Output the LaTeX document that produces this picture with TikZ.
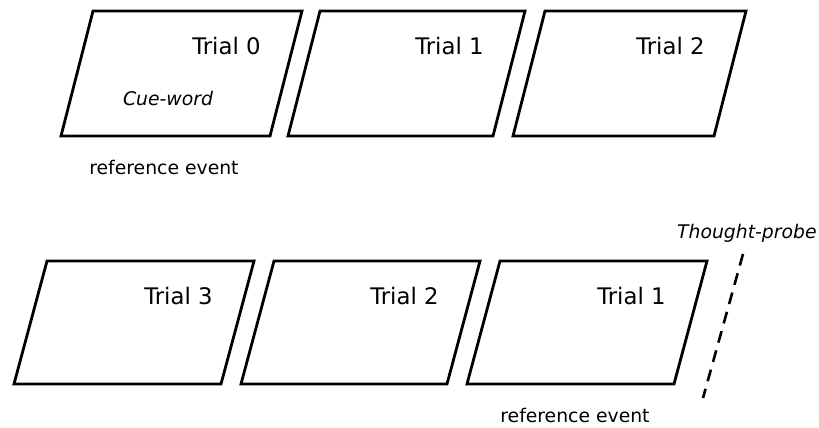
\documentclass[tikz,border=0pt]{standalone}
\usepackage{fontspec}
\setmainfont{DejaVu Sans}

\tikzset{
  trialbox/.style={draw, line width=1.4pt, line join=miter},
  triallabel/.style={anchor=east, inner sep=0pt,
    font=\fontsize{11.4}{13}\selectfont},
  notelabel/.style={inner sep=0pt,
    font=\fontsize{9.4}{11}\selectfont}
}

\begin{document}
\begin{tikzpicture}[x=0.5pt, y=-0.5pt]
  \useasboundingbox (0, 0) rectangle (819, 428);

  % upper row
  \coordinate (up0) at (93, 11);
  \coordinate (up1) at (320, 11);
  \coordinate (up2) at (545, 11);
  \draw[trialbox] (up0) -- ++(209, 0) coordinate (up0tr)
    -- ++(-32, 125) -- ++(-209, 0) coordinate (up0bl) -- cycle;
  \draw[trialbox] (up1) -- ++(205, 0) coordinate (up1tr)
    -- ++(-32, 125) -- ++(-205, 0) -- cycle;
  \draw[trialbox] (up2) -- ++(201, 0) coordinate (up2tr)
    -- ++(-32, 125) -- ++(-201, 0) -- cycle;

  \node[triallabel] (t0) at ([shift={(-41, 35)}]up0tr) {Trial 0};
  \node[triallabel] (t1) at ([shift={(-41, 35)}]up1tr) {Trial 1};
  \node[triallabel] (t2) at ([shift={(-41, 35)}]up2tr) {Trial 2};

  \node[notelabel] (cue) at ([shift={(107, -38)}]up0bl) {\itshape Cue-word};
  \node[notelabel] (ref0) at ([shift={(103, 31)}]up0bl) {reference event};

  % lower row
  \coordinate (lo3) at (47, 261);
  \coordinate (lo2) at (274, 261);
  \coordinate (lo1) at (500, 261);
  \draw[trialbox] (lo3) -- ++(207, 0) coordinate (lo3tr)
    -- ++(-33, 123) -- ++(-207, 0) -- cycle;
  \draw[trialbox] (lo2) -- ++(206, 0) coordinate (lo2tr)
    -- ++(-33, 123) -- ++(-206, 0) -- cycle;
  \draw[trialbox] (lo1) -- ++(207, 0) coordinate (lo1tr)
    -- ++(-33, 123) -- ++(-207, 0) coordinate (lo1bl) -- cycle;

  \node[triallabel] (t3b) at ([shift={(-41, 35)}]lo3tr) {Trial 3};
  \node[triallabel] (t2b) at ([shift={(-41, 35)}]lo2tr) {Trial 2};
  \node[triallabel] (t1b) at ([shift={(-41, 35)}]lo1tr) {Trial 1};

  \node[notelabel] (ref1) at ([shift={(108, 31)}]lo1bl) {reference event};

  % probe
  \node[notelabel, anchor=east] (probe) at (817, 233) {\itshape Thought-probe};
  \coordinate (ptop) at (743, 254);
  \coordinate (pbot) at (703, 398);
  \draw[line width=1.3pt, dash pattern=on 6pt off 4pt] (ptop) -- (pbot);

\end{tikzpicture}
\end{document}
